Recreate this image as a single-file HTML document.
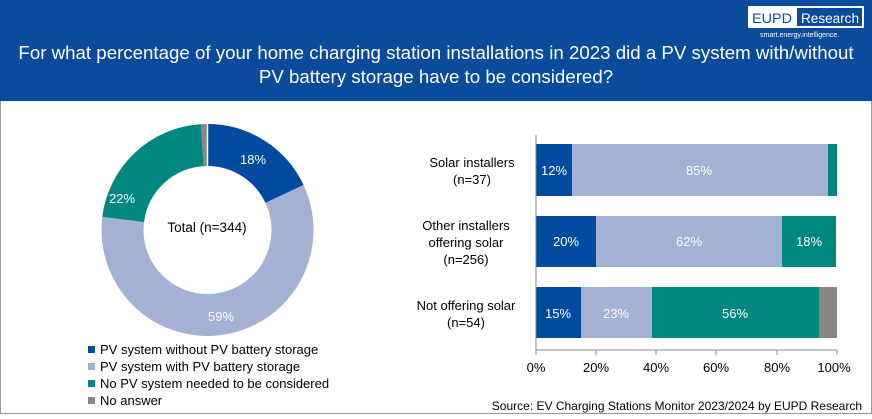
<!DOCTYPE html>
<html><head><meta charset="utf-8"><style>
body{margin:0;width:872px;height:414px;overflow:hidden;background:#fff;font-family:"Liberation Sans",sans-serif;}
</style></head><body>
<svg width="872" height="414" viewBox="0 0 872 414" xmlns="http://www.w3.org/2000/svg" font-family="Liberation Sans, sans-serif">
<rect x="0.5" y="0.5" width="871" height="413" fill="#fff" stroke="#999"/>
<rect x="0" y="0" width="872" height="101" fill="#0a4b9c"/>
<rect x="748" y="6" width="116" height="22" fill="#fff" rx="1"/>
<rect x="797" y="8" width="65" height="18" fill="#0a4b9c"/>
<text x="752" y="23" font-size="14" fill="#0a4b9c" textLength="40" lengthAdjust="spacingAndGlyphs">EUPD</text>
<text x="801" y="23" font-size="14" fill="#fff" textLength="58" lengthAdjust="spacingAndGlyphs">Research</text>
<text x="760" y="37" font-size="7" fill="#fff">smart.energy.intelligence.</text>
<text x="436" y="59" font-size="18.7" fill="#fff" text-anchor="middle">For what percentage of your home charging station installations in 2023 did a PV system with/without</text>
<text x="436" y="83" font-size="18.7" fill="#fff" text-anchor="middle">PV battery storage have to be considered?</text>
<g transform="translate(207.5,230)">
<circle r="85" fill="none" stroke="#a3b2d3" stroke-width="42"/>
<circle r="85" fill="none" stroke="#004a9f" stroke-width="42" stroke-dasharray="96.1 600" transform="rotate(-90)"/>
<circle r="85" fill="none" stroke="#00877f" stroke-width="42" stroke-dasharray="117.5 600" transform="rotate(-90) rotate(277.2)"/>
<circle r="85" fill="none" stroke="#878787" stroke-width="42" stroke-dasharray="5.4 600" transform="rotate(-90) rotate(356.4)"/>
<g stroke="#fff" stroke-width="1.5"><line x1="0" y1="-64" x2="0" y2="-106"/></g>
</g>
<text x="253" y="164" font-size="13" fill="#fff" text-anchor="middle">18%</text>
<text x="221" y="321" font-size="13" fill="#fff" text-anchor="middle">59%</text>
<text x="122" y="203" font-size="13" fill="#fff" text-anchor="middle">22%</text>
<text x="207" y="232" font-size="13.5" fill="#000" text-anchor="middle">Total (n=344)</text>
<g font-size="13" fill="#000">
<rect x="88" y="346" width="7" height="7" fill="#004a9f"/><text x="100" y="354">PV system without PV battery storage</text>
<rect x="88" y="363" width="7" height="7" fill="#a3b2d3"/><text x="100" y="371">PV system with PV battery storage</text>
<rect x="88" y="380" width="7" height="7" fill="#00877f"/><text x="100" y="388">No PV system needed to be considered</text>
<rect x="88" y="397" width="7" height="7" fill="#878787"/><text x="100" y="405">No answer</text>
</g>
<g>
<rect x="536" y="144" width="36" height="52" fill="#004a9f"/><rect x="572" y="144" width="256" height="52" fill="#a3b2d3"/><rect x="828" y="144" width="9" height="52" fill="#00877f"/>
<rect x="536" y="216" width="60" height="51" fill="#004a9f"/><rect x="596" y="216" width="186" height="51" fill="#a3b2d3"/><rect x="782" y="216" width="54" height="51" fill="#00877f"/>
<rect x="536" y="287" width="45" height="51" fill="#004a9f"/><rect x="581" y="287" width="71" height="51" fill="#a3b2d3"/><rect x="652" y="287" width="167" height="51" fill="#00877f"/><rect x="819" y="287" width="18" height="51" fill="#878787"/>
</g>
<g font-size="13" fill="#fff" text-anchor="middle">
<text x="554" y="175">12%</text><text x="699" y="175">85%</text>
<text x="566" y="246">20%</text><text x="689" y="246">62%</text><text x="809" y="246">18%</text>
<text x="558" y="318">15%</text><text x="616" y="318">23%</text><text x="735" y="318">56%</text>
</g>
<g stroke="#888" stroke-width="1">
<line x1="536" y1="135" x2="536" y2="350"/><line x1="536" y1="350" x2="837" y2="350"/>
<line x1="536" y1="350" x2="536" y2="355"/><line x1="596" y1="350" x2="596" y2="355"/><line x1="656" y1="350" x2="656" y2="355"/><line x1="716" y1="350" x2="716" y2="355"/><line x1="777" y1="350" x2="777" y2="355"/><line x1="837" y1="350" x2="837" y2="355"/>
</g>
<g font-size="13" fill="#000" text-anchor="middle">
<text x="536" y="372">0%</text><text x="596" y="372">20%</text><text x="656" y="372">40%</text><text x="716" y="372">60%</text><text x="777" y="372">80%</text><text x="834" y="372">100%</text>
</g>
<g font-size="13" fill="#000" text-anchor="middle">
<text x="472" y="167">Solar installers</text><text x="472" y="184">(n=37)</text>
<text x="466" y="230">Other installers</text><text x="466" y="247">offering solar</text><text x="466" y="264">(n=256)</text>
<text x="466" y="310">Not offering solar</text><text x="466" y="327">(n=54)</text>
</g>
<text x="862" y="410" font-size="12" fill="#000" text-anchor="end">Source: EV Charging Stations Monitor 2023/2024 by EUPD Research</text>
</svg>
</body></html>
